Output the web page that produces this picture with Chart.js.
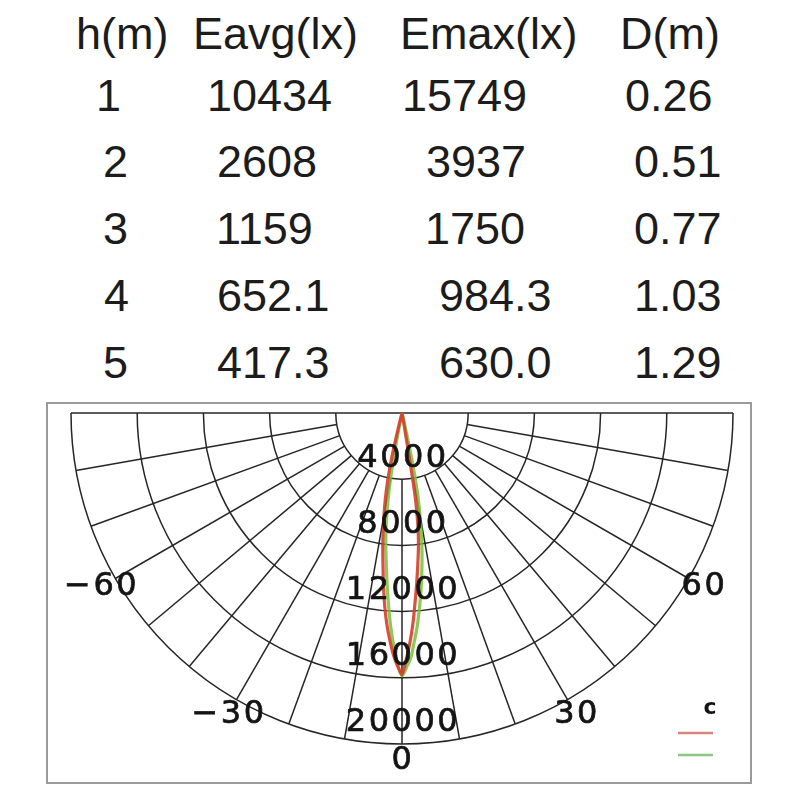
<!DOCTYPE html>
<html><head><meta charset="utf-8">
<script src="https://cdn.jsdelivr.net/npm/chart.js@4.4.1/dist/chart.umd.min.js"></script>
<style>
html,body{margin:0;padding:0;background:#fff;width:800px;height:800px;overflow:hidden}
.t{position:absolute;font-family:"Liberation Sans",Arial,sans-serif;font-size:45px;line-height:45px;color:#1c1c1c;white-space:nowrap}
#wrap{position:absolute;left:46px;top:402px;width:706px;height:382px}
</style></head><body>
<div id="table"></div>
<div id="wrap"><canvas id="c" width="706" height="382"></canvas></div>
<script>
// ---- table data ----
const headers = ["h(m)", "Eavg(lx)", "Emax(lx)", "D(m)"];
const heights = ["1", "2", "3", "4", "5"];
const eavg = ["10434", "2608", "1159", "652.1", "417.3"];
const emax = ["15749", "3937", "1750", "984.3", "630.0"];
const dist = ["0.26", "0.51", "0.77", "1.03", "1.29"];

// ---- polar chart data (angle in degrees, intensity in cd) ----
const ringTicks = [4000, 8000, 12000, 16000, 20000];
const angleTicks = [-60, -30, 0, 30, 60];
const legendTitle = "c";

const redAngles = [-15,-14,-13,-12,-11,-10,-9,-8,-7,-6,-5,-4,-3,-2,-1,0,1,2,3,4,5,6,7,8,9,10,11];
const redValues = [0,700,2700,4150,5250,6250,7300,8350,9400,10650,11850,12900,13800,14650,15300,15780,14870,13860,12700,11400,10250,9150,8150,6950,4900,700,0];

const greenAngles = [-12,-11,-10,-9,-8,-7,-6,-5,-4,-3,-2,-1,0,1,2,3,4,5,6,7,8,9,10,11,12,13,14];
const greenValues = [0,1600,3800,5500,6900,8050,9100,10350,11650,12960,14100,15160,15880,15380,14850,13900,13000,11950,10900,9800,8700,7550,6200,4850,2850,700,0];

// ---- build table ----
const tbl = document.getElementById('table');
const baselines = [49, 111, 177, 244, 311, 378];
const headerX = [76, 193, 400, 620];
const colX = [
  [96, 103, 103, 104, 103],
  [207, 217, 216, 217, 217],
  [402, 426, 425, 439, 439],
  [625, 634, 634, 634, 634]
];
function addText(txt, x, base) {
  const d = document.createElement('div');
  d.className = 't';
  d.textContent = txt;
  d.style.left = x + 'px';
  d.style.top = (base - 38) + 'px';
  tbl.appendChild(d);
}
headers.forEach((h, i) => addText(h, headerX[i], baselines[0]));
[heights, eavg, emax, dist].forEach((col, ci) => {
  col.forEach((v, ri) => addText(v, colX[ci][ri], baselines[ri + 1]));
});

// ---- polar -> cartesian through scales ----
function toXY(angles, values) {
  return angles.map((a, i) => {
    const t = a * Math.PI / 180;
    return { x: values[i] * Math.sin(t), y: -values[i] * Math.cos(t) };
  });
}

const W = 706, H = 382, CX = 356, CY = 11;
const outerR = 331;
const maxV = ringTicks[ringTicks.length - 1];
const k = outerR / maxV;

const polarPlugin = {
  id: 'polarGrid',
  beforeDatasetsDraw(chart) {
    const ctx = chart.ctx;
    const xs = chart.scales.x, ys = chart.scales.y;
    const cx = xs.getPixelForValue(0), cy = ys.getPixelForValue(0);
    const rad = v => xs.getPixelForValue(v) - cx;
    ctx.save();
    // frame
    ctx.strokeStyle = '#9a9a9a';
    ctx.lineWidth = 2;
    ctx.strokeRect(1, 1, W - 2, H - 2);
    // rings
    ctx.strokeStyle = '#262626';
    ctx.lineWidth = 1.5;
    ringTicks.forEach(v => {
      ctx.beginPath();
      ctx.arc(cx, cy, rad(v), 0, Math.PI);
      ctx.stroke();
    });
    // top line
    const R = rad(maxV), r0 = rad(ringTicks[0]);
    ctx.beginPath();
    ctx.moveTo(cx - R, cy); ctx.lineTo(cx + R, cy);
    ctx.stroke();
    // spokes
    for (let a = -80; a <= 80; a += 10) {
      const t = a * Math.PI / 180;
      ctx.beginPath();
      ctx.moveTo(cx + r0 * Math.sin(t), cy + r0 * Math.cos(t));
      ctx.lineTo(cx + R * Math.sin(t), cy + R * Math.cos(t));
      ctx.stroke();
    }
    ctx.restore();
  },
  afterDatasetsDraw(chart) {
    const ctx = chart.ctx;
    const xs = chart.scales.x, ys = chart.scales.y;
    const cx = xs.getPixelForValue(0), cy = ys.getPixelForValue(0);
    const rad = v => xs.getPixelForValue(v) - cx;
    ctx.save();
    ctx.fillStyle = '#141414';
    ctx.strokeStyle = '#141414';
    ctx.lineWidth = 0.7;
    ctx.font = '32px "DejaVu Sans", sans-serif';
    ctx.letterSpacing = '2.5px';
    ctx.textAlign = 'center';
    ctx.textBaseline = 'middle';
    const put = (s, x, y) => { ctx.fillText(s, x, y); ctx.strokeText(s, x, y); };
    ringTicks.forEach(v => {
      put(String(v), cx + 1, cy + rad(v) - 21);
    });
    angleTicks.forEach(a => {
      const t = a * Math.PI / 180;
      const rr = 348;
      const s = a < 0 ? '\u2212' + Math.abs(a) : String(a);
      put(s, cx + rr * Math.sin(t) + 1, cy + rr * Math.cos(t));
    });
    // legend
    ctx.letterSpacing = '0px';
    ctx.font = 'bold 22px "DejaVu Sans", sans-serif';
    ctx.fillText(legendTitle, 664, 306);
    const lc = ['rgba(214,120,110,0.9)', 'rgba(130,190,120,0.9)'];
    [331, 353].forEach((y, i) => {
      ctx.strokeStyle = lc[i];
      ctx.lineWidth = 2.5;
      ctx.beginPath();
      ctx.moveTo(632, y); ctx.lineTo(667, y);
      ctx.stroke();
    });
    ctx.restore();
  }
};

new Chart(document.getElementById('c'), {
  type: 'scatter',
  data: {
    datasets: [
      { label: 'C0-180', data: toXY(redAngles, redValues), showLine: true, borderColor: 'rgba(212,64,42,0.9)', borderWidth: 3.2, pointRadius: 0, tension: 0.3, fill: false },
      { label: 'C90-270', data: toXY(greenAngles, greenValues), showLine: true, borderColor: 'rgba(122,190,56,0.85)', borderWidth: 3.2, pointRadius: 0, tension: 0.3, fill: false }
    ]
  },
  options: {
    responsive: false,
    animation: false,
    layout: { padding: 0 },
    scales: {
      x: { type: 'linear', display: false, min: -CX / k, max: (W - CX) / k },
      y: { type: 'linear', display: false, min: -(H - CY) / k, max: CY / k }
    },
    plugins: { legend: { display: false }, tooltip: { enabled: false } }
  },
  plugins: [polarPlugin]
});
</script>
</body></html>
